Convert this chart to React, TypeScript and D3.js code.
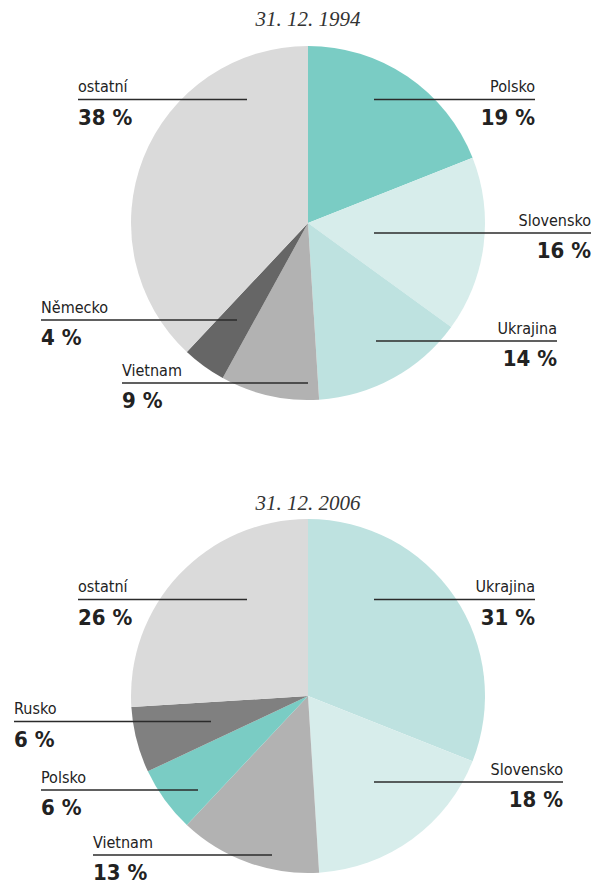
import React from "react";
import * as d3 from "d3";

const titles = ["31. 12. 1994", "31. 12. 2006"];

const countries1994 = ["Polsko", "Slovensko", "Ukrajina", "Vietnam", "Německo", "ostatní"];
const shares1994 = [19, 16, 14, 9, 4, 38];

const countries2006 = ["Ukrajina", "Slovensko", "Vietnam", "Polsko", "Rusko", "ostatní"];
const shares2006 = [31, 18, 13, 6, 6, 26];

const palette = d3
  .scaleOrdinal<string, string>()
  .domain(["Polsko", "Slovensko", "Ukrajina", "Vietnam", "Německo", "Rusko", "ostatní"])
  .range(["#7accc4", "#d7edeb", "#bee2e0", "#b2b2b2", "#666666", "#808080", "#dadada"]);

// label leader lines: side, x from, x to, y
type Lbl = { side: "left" | "right"; x1: number; x2: number; y: number };

const labels1994: Lbl[] = [
  { side: "right", x1: 374, x2: 535, y: 99.5 },
  { side: "right", x1: 374, x2: 591, y: 233 },
  { side: "right", x1: 376, x2: 557, y: 341 },
  { side: "left", x1: 122, x2: 308, y: 383 },
  { side: "left", x1: 41, x2: 237, y: 320 },
  { side: "left", x1: 78, x2: 247, y: 99.5 },
];

const labels2006: Lbl[] = [
  { side: "right", x1: 374, x2: 535, y: 599.5 },
  { side: "right", x1: 374, x2: 563, y: 782 },
  { side: "left", x1: 93, x2: 272, y: 855 },
  { side: "left", x1: 41, x2: 198, y: 790 },
  { side: "left", x1: 14, x2: 211, y: 721.5 },
  { side: "left", x1: 78, x2: 247, y: 599.5 },
];

const W = 594;
const H = 886;
const R = 177;
const cx = 308;

const sansFont = "'DejaVu Sans Condensed', 'Liberation Sans', Arial, sans-serif";

function Pie({
  cy,
  titleY,
  title,
  countries,
  shares,
  labels,
}: {
  cy: number;
  titleY: number;
  title: string;
  countries: string[];
  shares: number[];
  labels: Lbl[];
}) {
  const arcs = d3.pie<number>().sort(null).value((d) => d)(shares);
  const arc = d3.arc<d3.PieArcDatum<number>>().innerRadius(0).outerRadius(R);

  return (
    <g>
      <text
        x={cx}
        y={titleY}
        textAnchor="middle"
        fontFamily="'Liberation Serif', 'Times New Roman', serif"
        fontStyle="italic"
        fontSize={21}
        fill="#333"
      >
        {title}
      </text>
      <g transform={`translate(${cx},${cy})`}>
        {arcs.map((a, i) => (
          <path key={countries[i]} d={arc(a) || ""} fill={palette(countries[i])} />
        ))}
      </g>
      {labels.map((l, i) => {
        const tx = l.side === "left" ? l.x1 : l.x2;
        const anchor = l.side === "left" ? "start" : "end";
        return (
          <g key={countries[i]}>
            <line x1={l.x1} x2={l.x2} y1={l.y} y2={l.y} stroke="#2b2b2b" strokeWidth={1.4} />
            <text
              x={tx}
              y={l.y - 7.5}
              textAnchor={anchor}
              fontFamily={sansFont}
              fontSize={16}
              fill="#222"
            >
              {countries[i]}
            </text>
            <text
              x={tx}
              y={l.y + 25}
              textAnchor={anchor}
              fontFamily={sansFont}
              fontWeight="bold"
              fontSize={22}
              fill="#222"
            >
              {`${shares[i]} %`}
            </text>
          </g>
        );
      })}
    </g>
  );
}

export default function App() {
  return (
    <svg
      width={W}
      height={H}
      style={{ position: "absolute", left: 0, top: 0, background: "#fff" }}
    >
      <Pie
        cy={223}
        titleY={26}
        title={titles[0]}
        countries={countries1994}
        shares={shares1994}
        labels={labels1994}
      />
      <Pie
        cy={696}
        titleY={510}
        title={titles[1]}
        countries={countries2006}
        shares={shares2006}
        labels={labels2006}
      />
    </svg>
  );
}
